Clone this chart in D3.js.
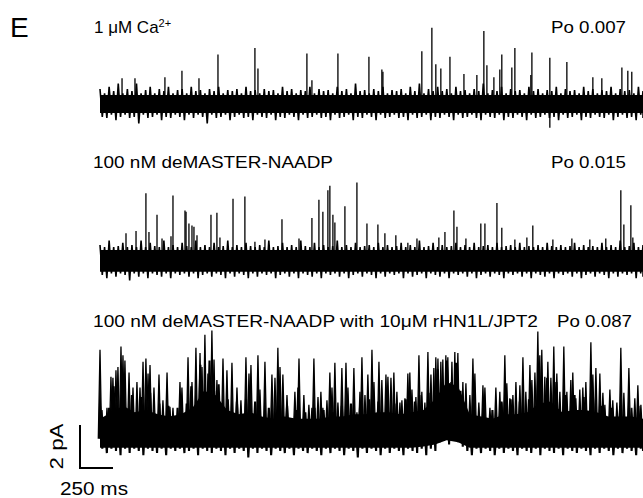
<!DOCTYPE html>
<html lang="en">
<head>
<meta charset="utf-8">
<title>E</title>
<script src="https://cdn.jsdelivr.net/npm/d3@7/dist/d3.min.js" charset="utf-8"></script>
<style>body{margin:0;background:#fff;}</style>
</head>
<body>
<script type="text/javascript">

var width = 643;
var height = 498;

// shown record length (ms); noise samples are evenly spaced over it
var duration = 4115;

var traceLabels = ["1 μM Ca", "100 nM deMASTER-NAADP", "100 nM deMASTER-NAADP with 10μM rHN1L/JPT2"];
var poLabels = ["Po 0.007", "Po 0.015", "Po 0.087"];

// openings: [time ms, current pA]
var spikes1 = [[167,1.2],[265,1.2],[492,1.25],[621,1.55],[750,1.2],[894,2.3],[1174,2.6],[1197,1.65],
  [1568,2.35],[1606,1.1],[1803,2.35],[2038,2.2],[2136,1.6],[2144,1.5],[2439,2.45],[2515,3.55],
  [2545,1.85],[2583,1.65],[2652,2.2],[2758,1.4],[2856,1.35],[2909,3.4],[2932,1.8],[2985,1.25],
  [3030,1.6],[3045,2.3],[3121,1.7],[3144,2.6],[3265,1.35],[3273,2.4],[3409,2.15],[3409,-1.1],
  [3538,1.95],[3735,1.25],[3803,1.2],[3955,1.7],[4000,1.55],[4030,1.5]];

var spikes2 = [[197,1.25],[273,1.35],[348,3.1],[371,1.3],[432,2.1],[470,1.0],[538,1.1],[553,3.0],
  [644,2.3],[652,2.25],[674,1.7],[697,1.6],[712,1.55],[735,1.15],[841,2.1],[886,2.2],[909,1.05],
  [1008,2.85],[1098,2.95],[1174,0.85],[1250,0.95],[1379,1.9],[1508,1.0],[1606,1.95],[1659,2.8],
  [1689,2.25],[1727,3.25],[1742,3.45],[1765,2.1],[1780,1.75],[1856,2.5],[1947,3.6],[2023,1.7],
  [2106,1.65],[2159,1.25],[2242,1.15],[2333,0.8],[2402,1.0],[2568,1.05],[2614,1.3],[2682,2.3],
  [2705,1.55],[2773,1.0],[2886,1.7],[2917,1.7],[3008,2.65],[3045,1.5],[3144,0.95],[3235,1.05],
  [3280,1.6],[3432,0.95],[3576,1.0],[3712,0.95],[3833,1.0],[3947,3.25],[3970,1.65],[4023,2.55],
  [4038,1.05]];

var spikes3 = [[0,4.1],[15,1.3],[53,1.4],[83,2.85],[98,2.8],[121,3.15],[136,3.3],[159,4.25],[174,3.85],
  [189,3.6],[220,3.05],[250,2.35],[280,2.6],[303,2.35],[326,3.55],[348,3.7],[364,3.0],[379,3.4],
  [409,2.35],[447,2.95],[477,1.75],[508,3.05],[530,1.45],[553,1.4],[606,2.6],[621,2.35],[667,3.75],
  [697,2.6],[727,4.2],[758,3.95],[773,3.3],[795,4.8],[818,3.0],[848,5.0],[864,3.65],[886,2.7],
  [932,3.7],[962,3.15],[1000,3.5],[1038,2.35],[1068,1.75],[1106,3.75],[1129,3.0],[1144,3.4],
  [1197,3.85],[1212,2.25],[1250,3.55],[1303,2.95],[1326,2.8],[1348,4.2],[1364,3.3],[1386,2.95],
  [1417,2.0],[1477,2.15],[1500,2.35],[1508,3.7],[1545,2.0],[1583,1.55],[1606,1.4],[1621,3.7],
  [1652,1.9],[1674,2.15],[1689,1.4],[1720,1.75],[1742,3.05],[1758,2.35],[1780,3.5],[1803,1.65],
  [1833,3.25],[1864,3.5],[1879,2.35],[1924,3.25],[1947,1.2],[1970,2.15],[1985,3.75],[2008,2.0],
  [2030,2.95],[2061,4.1],[2076,2.6],[2114,3.55],[2136,2.7],[2167,2.95],[2182,2.85],[2205,2.8],
  [2227,3.05],[2250,2.15],[2273,1.65],[2288,1.75],[2311,1.85],[2333,3.0],[2348,3.05],[2364,2.25],
  [2394,1.9],[2417,3.85],[2439,2.15],[2462,1.65],[2485,4.0],[2508,2.95],[2530,3.25],[2545,3.75],
  [2561,3.7],[2583,3.55],[2598,3.65],[2621,3.85],[2636,3.75],[2667,3.55],[2689,4.0],[2712,3.95],
  [2727,1.65],[2750,2.6],[2773,2.55],[2803,2.0],[2826,3.7],[2841,3.0],[2871,1.65],[2902,2.45],
  [2917,2.35],[2955,1.4],[3000,2.35],[3030,2.15],[3045,1.65],[3068,3.85],[3083,2.55],[3106,1.85],
  [3129,2.0],[3152,2.6],[3182,2.45],[3205,3.75],[3227,2.15],[3258,3.4],[3273,2.7],[3296,3.05],
  [3318,4.95],[3333,3.85],[3348,4.1],[3371,2.85],[3394,3.55],[3417,2.8],[3439,4.25],[3462,3.0],
  [3485,2.15],[3515,4.25],[3538,2.15],[3568,2.7],[3583,3.05],[3606,1.85],[3636,2.25],[3659,2.35],
  [3682,2.6],[3720,4.45],[3735,2.95],[3758,3.25],[3788,3.0],[3811,2.1],[3826,1.55],[3864,2.25],
  [3886,1.75],[3917,1.65],[3947,4.2],[3970,2.1],[4008,3.25],[4030,1.4],[4053,1.85],[4076,2.45],
  [4099,1.55]];

// noise tips (pA): upper and lower excursions of the closed-level band
var hi1 = [0.7,0.5,0.8,0.6,0.95,0.5,0.7,0.6,0.95,0.5,0.65,0.8,0.5,0.7,0.6,0.8,0.5,0.65,0.7,0.5,
  0.8,0.6,0.65,0.5,0.7,0.6,0.8,0.5,0.65,0.6,0.7,0.5,0.8,0.6,0.65,0.5,0.7,0.6,0.65,0.5,
  0.8,0.6,0.7,0.5,0.65,0.6,0.8,0.5,0.7,0.6,0.65,0.5,0.8,0.6,0.7,0.5,0.95,0.6,0.65,0.5,
  0.7,0.6,0.8,0.5,0.65,0.6,0.7,0.5,0.8,0.6,0.95,0.5,0.7,0.6,0.8,0.6,0.7,0.5,0.8,0.6,
  0.65,0.5,0.7,0.6,0.95,0.5,0.65,0.6,0.8,0.5,0.7,0.6,0.65,0.5,0.8,0.6,0.7,0.5,0.65,0.6,
  0.8,0.5,0.7,0.6,0.65,0.5,0.8,0.6,0.7,0.5,0.65,0.6,0.8,0.5,0.7,0.6,0.65,0.5,0.8,0.6];
var lo1 = [-0.6,-0.65,-0.5,-0.75,-0.6,-0.5,-0.65,-0.6,-0.9,-0.5,-0.65,-0.6,-0.5,-0.75,-0.6,-0.65,-0.5,-0.6,-0.75,-0.5,
  -0.65,-0.5,-0.6,-0.9,-0.5,-0.65,-0.6,-0.5,-0.75,-0.6,-0.5,-0.65,-0.6,-0.75,-0.5,-0.6,-0.65,-0.5,-0.75,-0.6,
  -0.65,-0.5,-0.6,-0.75,-0.5,-0.65,-0.6,-0.5,-0.65,-0.6,-0.75,-0.5,-0.65,-0.6,-0.5,-0.75,-0.6,-0.65,-0.5,-0.6,
  -0.75,-0.5,-0.65,-0.6,-0.5,-0.65,-0.6,-0.75,-0.5,-0.65,-0.6,-0.5,-0.75,-0.6,-0.65,-0.5,-0.6,-0.75,-0.5,-0.65,
  -0.6,-0.5,-0.65,-0.75,-0.5,-0.6,-0.65,-0.5,-0.75,-0.6,-0.65,-0.5,-0.6,-0.75,-0.5,-0.65,-0.6,-0.5,-0.65,-0.6,
  -0.75,-0.5,-0.65,-0.6,-0.5,-0.75,-0.6,-0.65,-0.5,-0.6,-0.65,-0.5,-0.75,-0.6,-0.5,-0.65,-0.6,-0.75,-0.5,-0.65];

var hi2 = [0.7,0.6,0.9,0.6,0.65,0.8,0.6,0.7,0.6,0.9,0.6,0.8,0.65,0.6,0.9,0.6,0.7,0.6,0.8,0.65,
  0.6,0.9,0.6,0.7,0.6,0.8,0.6,0.65,0.9,0.6,0.7,0.6,0.8,0.65,0.6,0.7,0.6,0.9,0.6,0.65,
  0.8,0.6,0.7,0.6,0.9,0.65,0.6,0.8,0.6,0.7,0.6,0.65,0.9,0.6,0.7,0.6,0.8,0.6,0.65,0.7,
  0.6,0.8,0.6,0.7,0.6,0.65,0.8,0.6,0.7,0.6,0.9,0.6,0.65,0.8,0.6,0.7,0.6,0.65,0.8,0.6,
  0.7,0.6,0.8,0.6,0.65,0.7,0.6,0.8,0.6,0.65,0.7,0.6,0.8,0.6,0.65,0.6,0.7,0.6,0.8,0.65,
  0.6,0.7,0.6,0.65,0.8,0.6,0.7,0.6,0.65,0.6,0.8,0.6,0.7,0.6,0.9,0.6,0.65,0.8,0.6,0.7];
var lo2 = [-0.7,-0.85,-0.62,-0.78,-0.62,-0.7,-0.95,-0.62,-0.78,-0.62,-0.85,-0.62,-0.7,-0.78,-0.62,-0.85,-0.62,-0.7,-0.62,-0.78,
  -0.62,-0.85,-0.7,-0.62,-0.78,-0.62,-0.7,-0.85,-0.62,-0.78,-0.62,-0.7,-0.85,-0.62,-0.78,-0.62,-0.7,-0.62,-0.85,-0.7,
  -0.62,-0.78,-0.62,-0.85,-0.62,-0.7,-0.78,-0.62,-0.85,-0.62,-0.7,-0.62,-0.78,-0.62,-0.85,-0.7,-0.62,-0.78,-0.62,-0.7,
  -0.85,-0.62,-0.78,-0.62,-0.7,-0.62,-0.85,-0.62,-0.78,-0.7,-0.62,-0.85,-0.62,-0.7,-0.78,-0.62,-0.85,-0.62,-0.7,-0.62,
  -0.78,-0.62,-0.85,-0.7,-0.62,-0.78,-0.62,-0.7,-0.85,-0.62,-0.7,-0.62,-0.78,-0.62,-0.85,-0.62,-0.7,-0.78,-0.62,-0.85,
  -0.62,-0.7,-0.62,-0.78,-0.62,-0.85,-0.7,-0.62,-0.78,-0.62,-0.7,-0.85,-0.62,-0.78,-0.62,-0.7,-0.62,-0.85,-0.62,-0.78];

var hi3 = [1.5,0.7,1.4,2.4,1.0,2.6,1.2,2.0,0.8,1.9,1.0,2.1,0.9,1.6,0.7,1.5,0.8,1.4,0.7,1.6,
  2.4,1.2,3.4,2.0,3.6,2.2,2.5,1.1,1.8,0.8,1.7,0.7,1.8,0.9,1.7,1.3,0.6,1.4,0.7,1.2,
  0.6,1.5,0.7,1.3,0.6,1.2,0.7,1.4,0.6,1.3,0.7,1.2,0.6,1.5,0.7,1.6,0.8,1.5,0.8,1.8,
  0.7,1.7,0.9,1.8,0.8,1.6,0.7,1.8,0.9,1.7,2.0,1.0,2.1,1.2,3.2,2.4,3.6,2.6,3.5,2.2,
  1.5,0.7,1.3,0.6,1.4,0.7,1.3,0.6,1.7,0.8,1.8,0.7,1.7,0.9,1.8,0.8,2.6,1.4,2.8,1.5,
  2.6,0.9,2.0,0.8,2.0,0.9,1.9,0.8,2.1,0.9,1.5,0.7,1.4,0.6,1.5,0.7,1.4,0.6,1.5,0.7];
var lo3 = [-0.5,-0.7,-0.5,-0.6,-0.8,-0.5,-0.7,-0.5,-0.6,-0.8,-0.5,-0.6,-0.7,-0.5,-0.8,-0.5,-0.6,-0.5,-0.7,-0.6,
  -0.5,-0.8,-0.5,-0.6,-0.7,-0.5,-0.6,-0.8,-0.5,-0.7,-0.5,-0.6,-0.9,-0.5,-0.7,-0.5,-0.6,-0.8,-0.5,-0.6,
  -0.7,-0.5,-0.8,-0.5,-0.6,-0.7,-0.5,-0.6,-0.8,-0.5,-0.7,-0.5,-0.6,-0.8,-0.5,-0.6,-0.9,-0.5,-0.7,-0.5,
  -0.6,-0.8,-0.5,-0.7,-0.5,-0.6,-0.8,-0.5,-0.6,-0.7,-0.5,-0.8,-0.5,-0.6,-0.2,0.1,-0.3,0.0,-0.2,-0.4,
  -0.6,-0.8,-0.5,-0.7,-0.5,-0.6,-0.8,-0.5,-0.7,-0.5,-0.6,-0.8,-0.5,-0.6,-0.7,-0.5,-0.8,-0.5,-0.6,-0.7,
  -0.5,-0.8,-0.5,-0.6,-0.7,-0.5,-0.6,-0.8,-0.5,-0.7,-0.5,-0.6,-0.8,-0.5,-0.7,-0.5,-0.6,-0.8,-0.5,-0.6];

// solid core of each band (pA), evenly spaced over the record
var coreTop1 = [0.42, 0.42];
var coreBot1 = [-0.42, -0.42];
var coreTop2 = [0.47, 0.47];
var coreBot2 = [-0.55, -0.55];
var coreTop3 = [0.9,1.2,1.5,1.2,1.3,1.1,1.0,1.1,1.4,2.2,2.0,1.3,1.1,1.2,1.0,0.9,1.0,0.9,0.9,0.9,
  1.0,1.0,1.1,1.1,1.2,1.2,1.1,1.2,1.3,1.8,2.6,2.4,1.1,1.0,0.9,1.1,1.1,1.2,1.6,1.7,
  1.2,1.3,1.3,1.2,1.0,1.0,1.0,0.9];
var coreBot3 = [-0.45,-0.45,-0.45,-0.45,-0.45,-0.45,-0.45,-0.45,-0.45,-0.45,-0.45,-0.45,-0.45,-0.45,-0.45,-0.45,
  -0.45,-0.45,-0.45,-0.45,-0.45,-0.45,-0.45,-0.45,-0.45,-0.45,-0.45,-0.45,-0.4,-0.3,-0.1,-0.2,
  -0.45,-0.45,-0.45,-0.45,-0.45,-0.45,-0.45,-0.45,-0.45,-0.45,-0.45,-0.45,-0.45,-0.45,-0.45,-0.45];

var traces = [
  {label: traceLabels[0], po: poLabels[0], hi: hi1, lo: lo1, top: coreTop1, bot: coreBot1, spikes: spikes1},
  {label: traceLabels[1], po: poLabels[1], hi: hi2, lo: lo2, top: coreTop2, bot: coreBot2, spikes: spikes2},
  {label: traceLabels[2], po: poLabels[2], hi: hi3, lo: lo3, top: coreTop3, bot: coreBot3, spikes: spikes3}
];

// layout
var baseY = [104, 260, 438];   // closed level of each trace
var labelY = [33, 168, 327];
var noiseWidth = [1.6, 1.6, 2.1];
var spikeHalfWidth = [0, 0, 1.7];
var pAHeight = 21.5;           // px per pA
var font = "'Liberation Sans', Arial, Helvetica, sans-serif";

var svg = d3.select("body").append("svg")
            .attr("width", width)
            .attr("height", height);

var x = d3.scaleLinear()
          .domain([0, duration])
          .range([100, 643]);

traces.forEach(function (tr, k) {
  var y = d3.scaleLinear()
            .domain([0, 2])
            .range([baseY[k], baseY[k] - 2 * pAHeight]);
  var g = svg.append("g");

  // solid core
  var dc = duration / (tr.top.length - 1);
  var core = d3.area()
               .x(function (d, i) { return x(i * dc); })
               .y0(function (d) { return y(d[1]); })
               .y1(function (d) { return y(d[0]); });
  g.append("path")
   .datum(d3.zip(tr.top, tr.bot))
   .attr("d", core)
   .attr("fill", "#000");

  // noise: the trace swings from each upper tip to the next lower tip
  var dt = duration / (tr.hi.length - 1);
  var pts = [];
  tr.hi.forEach(function (v, i) {
    pts.push([i * dt, v]);
    pts.push([i * dt + dt / 2, tr.lo[i]]);
  });
  var line = d3.line()
               .x(function (d) { return x(Math.min(d[0], duration)); })
               .y(function (d) { return y(d[1]); });
  g.append("path")
   .datum(pts)
   .attr("d", line)
   .attr("fill", "none")
   .attr("stroke", "#000")
   .attr("stroke-width", noiseWidth[k]);

  // openings
  var w = spikeHalfWidth[k];
  g.selectAll(".spike")
   .data(tr.spikes)
   .enter()
   .append("path")
   .attr("class", "spike")
   .attr("d", function (d) {
     return "M" + (x(d[0]) - w) + "," + y(0) + "L" + x(d[0]) + "," + y(d[1]) +
            "L" + (x(d[0]) + w) + "," + y(0) + "Z";
   })
   .attr("fill", "#000")
   .attr("stroke", "#000")
   .attr("stroke-width", 1.3);
});

// text
svg.append("text")
   .attr("x", 10)
   .attr("y", 37)
   .attr("font-family", font)
   .attr("font-size", 28)
   .text("E");

var t1 = svg.append("text")
            .attr("x", 94)
            .attr("y", labelY[0])
            .attr("font-family", font)
            .attr("font-size", 17);
t1.append("tspan").text(traces[0].label);
t1.append("tspan").attr("dy", -6).attr("font-size", 11).text("2+");

svg.append("text")
   .attr("x", 93)
   .attr("y", labelY[1])
   .attr("font-family", font)
   .attr("font-size", 17)
   .attr("textLength", 240)
   .attr("lengthAdjust", "spacingAndGlyphs")
   .text(traces[1].label);

svg.append("text")
   .attr("x", 93)
   .attr("y", labelY[2])
   .attr("font-family", font)
   .attr("font-size", 17)
   .attr("textLength", 445)
   .attr("lengthAdjust", "spacingAndGlyphs")
   .text(traces[2].label);

var poX = [551, 551, 557];
traces.forEach(function (tr, k) {
  svg.append("text")
     .attr("x", poX[k])
     .attr("y", labelY[k])
     .attr("font-family", font)
     .attr("font-size", 17)
     .attr("textLength", 75)
     .attr("lengthAdjust", "spacingAndGlyphs")
     .text(tr.po);
});

// scale bar: 250 ms x 2 pA
var sbX = 80, sbY = 468;
var sbW = x(250) - x(0);
var sbH = 2 * pAHeight;
svg.append("path")
   .attr("d", "M" + sbX + "," + (sbY - sbH) + "V" + sbY + "H" + (sbX + sbW))
   .attr("fill", "none")
   .attr("stroke", "#000")
   .attr("stroke-width", 2);

svg.append("text")
   .attr("transform", "translate(63," + (sbY - sbH / 2) + ") rotate(-90)")
   .attr("text-anchor", "middle")
   .attr("font-family", font)
   .attr("font-size", 18)
   .attr("textLength", 46)
   .attr("lengthAdjust", "spacingAndGlyphs")
   .text("2 pA");

svg.append("text")
   .attr("x", 60)
   .attr("y", 495)
   .attr("font-family", font)
   .attr("font-size", 18)
   .attr("textLength", 68)
   .attr("lengthAdjust", "spacingAndGlyphs")
   .text("250 ms");

</script>
</body>
</html>
